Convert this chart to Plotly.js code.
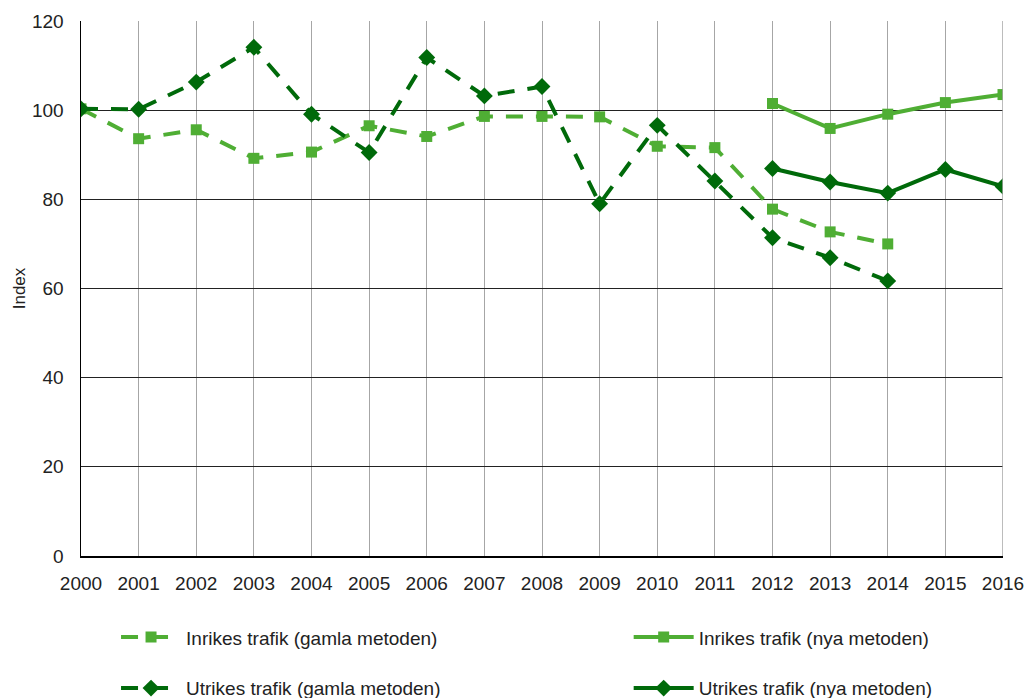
<!DOCTYPE html>
<html>
<head>
<meta charset="utf-8">
<script src="https://cdn.plot.ly/plotly-3.0.1.min.js"></script>
<style>html,body{margin:0;padding:0;background:#fff;}#chart{width:1029px;height:698px;}</style>
</head>
<body>
<div id="chart"></div>
<script>
const years = [2000,2001,2002,2003,2004,2005,2006,2007,2008,2009,2010,2011,2012,2013,2014,2015,2016];
const yearsOld = [2000,2001,2002,2003,2004,2005,2006,2007,2008,2009,2010,2011,2012,2013,2014];
const yearsNew = [2012,2013,2014,2015,2016];
const inrikesGamla = [100.3,93.6,95.6,89.2,90.6,96.5,94.1,98.6,98.6,98.5,91.9,91.6,77.8,72.7,70.0];
const utrikesGamla = [100.3,100.2,106.3,114.1,99.1,90.5,111.8,103.2,105.3,79.0,96.6,84.1,71.4,66.9,61.7];
const inrikesNya = [101.5,95.9,99.1,101.7,103.5];
const utrikesNya = [86.9,83.9,81.4,86.7,82.9];
const names = ["Inrikes trafik (gamla metoden)","Inrikes trafik (nya metoden)","Utrikes trafik (gamla metoden)","Utrikes trafik (nya metoden)"];
const lightGreen = "#4fae34";
const darkGreen = "#006a0a";
const FONT = "Liberation Sans, Arial, sans-serif";

const traces = [
  {x: yearsOld, y: inrikesGamla, name: names[0], mode: "lines+markers", legend: "legend",
   line: {color: lightGreen, width: 4, dash: "17px,13px"}, marker: {symbol: "square", size: 11, color: lightGreen}},
  {x: yearsNew, y: inrikesNya, name: names[1], mode: "lines+markers", legend: "legend2",
   line: {color: lightGreen, width: 4}, marker: {symbol: "square", size: 11, color: lightGreen}},
  {x: yearsOld, y: utrikesGamla, name: names[2], mode: "lines+markers", legend: "legend3",
   line: {color: darkGreen, width: 4, dash: "17px,13px"}, marker: {symbol: "diamond", size: 13, color: darkGreen}},
  {x: yearsNew, y: utrikesNya, name: names[3], mode: "lines+markers", legend: "legend4",
   line: {color: darkGreen, width: 4}, marker: {symbol: "diamond", size: 13, color: darkGreen}}
];

function leg(x, y) {
  return {orientation: "h", x: x, y: y, xref: "paper", yref: "container", xanchor: "left", yanchor: "middle",
    font: {family: FONT, size: 19, color: "#222"}, bgcolor: "rgba(0,0,0,0)", itemwidth: 60};
}

const layout = {
  width: 1029, height: 698,
  margin: {l: 81, r: 26, t: 21, b: 142},
  paper_bgcolor: "#fff", plot_bgcolor: "#fff",
  font: {family: FONT, size: 19, color: "#222"},
  xaxis: {range: [2000, 2016], tickmode: "array", tickvals: years, ticktext: years.map(String),
    showgrid: true, gridcolor: "#a6a6a6", gridwidth: 1, zeroline: false,
    showline: true, linecolor: "#000", linewidth: 1.5, ticks: "", tickfont: {size: 19},
    ticklabelstandoff: 10, automargin: false},
  yaxis: {range: [0, 120], dtick: 20, showgrid: true, gridcolor: "#222", gridwidth: 1, zeroline: false,
    showline: true, linecolor: "#000", linewidth: 1.5, ticks: "", tickfont: {size: 19},
    ticklabelstandoff: 12, automargin: false,
    title: {text: "Index", font: {size: 17}, standoff: 2}},
  showlegend: true,
  legend: leg(0.038, 0.087),
  legend2: leg(0.594, 0.087),
  legend3: leg(0.038, 0.014),
  legend4: leg(0.594, 0.014),
  shapes: [
    {type: "line", xref: "x", yref: "y", x0: 2016, x1: 2016, y0: 0, y1: 120, line: {color: "#a6a6a6", width: 1.5}}
  ]
};

Plotly.newPlot("chart", traces, layout, {displayModeBar: false, staticPlot: true});
</script>
</body>
</html>
